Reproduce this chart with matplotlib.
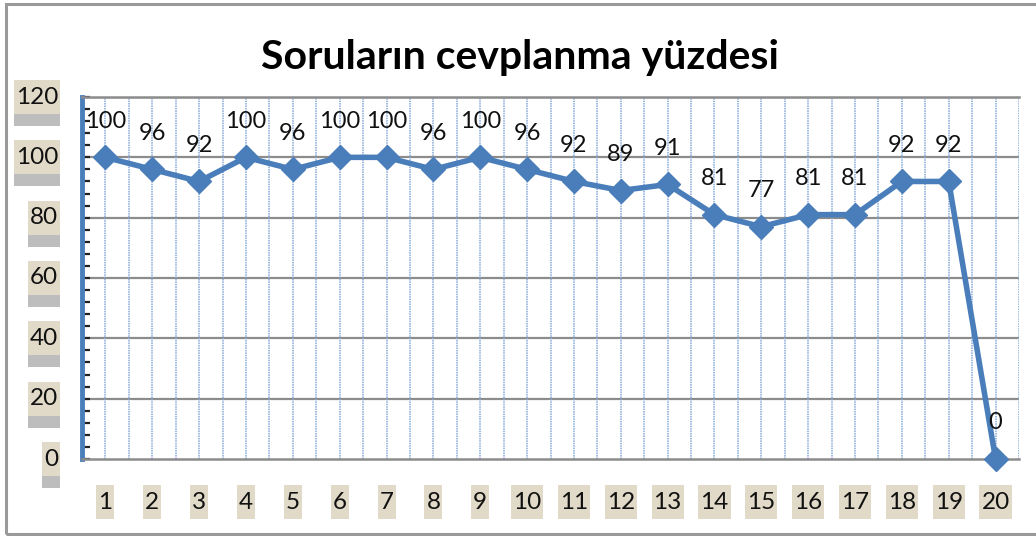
import matplotlib
matplotlib.use("Agg")
import matplotlib.pyplot as plt
from matplotlib.patches import Rectangle

questions = list(range(1, 21))
percent = [100, 96, 92, 100, 96, 100, 100, 96, 100, 96,
           92, 89, 91, 81, 77, 81, 81, 92, 92, 0]
y_ticks = [0, 20, 40, 60, 80, 100, 120]
title = "Soruların cevplanma yüzdesi"

plt.rcParams["font.family"] = ["Lato", "DejaVu Sans"]

BLUE = "#4a7ebb"
BEIGE = "#e2dac8"
GRAY = "#bdbdbd"
W, H = 1036, 536

fig = plt.figure(figsize=(W / 100, H / 100), dpi=100)
fig.patches.append(Rectangle((6 / W, 2 / H), 1.1, 530 / H, transform=fig.transFigure,
                             fill=False, edgecolor="#9a9a9a", linewidth=2.2))
ax = fig.add_axes([82 / W, 1 - 459 / H, (1019 - 82) / W, (459 - 97) / H])

ax.set_xlim(0.5, 20.5)
ax.set_ylim(0, 120)

# grid
for y in y_ticks[1:]:
    ax.axhline(y, color="#8c8c8c", lw=1.6, zorder=1)
for k in range(1, 41):
    ax.axvline(0.5 + k * 0.5, color="#87a9d8", lw=1.1, ls=(0, (1, 0.6)), zorder=1)

ax.plot(questions, percent, color=BLUE, lw=4, marker="D", markersize=12.5,
        zorder=3, clip_on=False)
for x, v in zip(questions, percent):
    ax.annotate(str(v), (x, v), xytext=(0, 26), textcoords="offset points",
                ha="center", va="center", fontsize=17, color="#111111", zorder=4)

for s in ["top", "bottom"]:
    ax.spines[s].set_color("#8c8c8c")
    ax.spines[s].set_linewidth(1.8)
ax.spines["right"].set_visible(False)
ax.spines["left"].set_color(BLUE)
ax.spines["left"].set_linewidth(3.5)

ax.set_yticks(y_ticks)
ax.set_yticks(range(0, 121, 4), minor=True)
ax.tick_params(axis="y", which="both", direction="in", color="#222222",
               length=6, width=1.6, labelleft=False)
ax.set_xticks([])

# y tick labels
ylabels = []
for y in y_ticks:
    t = ax.annotate(str(y), (0, y), xycoords=ax.get_yaxis_transform(),
                    xytext=(-24, 0), textcoords="offset pixels", ha="right", va="center",
                    fontsize=17.5, color="#111111", zorder=6, annotation_clip=False)
    ylabels.append(t)

# x tick labels
xlabels = []
for x in questions:
    t = ax.text(x, -0.119, str(x), transform=ax.get_xaxis_transform(), ha="center",
                va="center", fontsize=17.5, color="#111111", zorder=6)
    xlabels.append(t)

fig.text(0.502, 1 - 57 / H, title, ha="center", va="center", fontsize=29.5,
         fontweight="bold", color="#000000")

# beige label boxes (and gray strip under the y labels), drawn under the label text
fig.canvas.draw()
r = fig.canvas.get_renderer()
for t in ylabels + xlabels:
    bb = t.get_window_extent(r)
    cy = (bb.y0 + bb.y1) / 2
    x0, w = bb.x0 - 2, bb.width + 4
    ax.add_patch(Rectangle((x0 / W, (cy - 17) / H), w / W, 34 / H,
                           transform=fig.transFigure, fc=BEIGE, ec="none",
                           clip_on=False, zorder=5))
    if t in ylabels:
        ax.add_patch(Rectangle((x0 / W, (cy - 29) / H), w / W, 12 / H,
                               transform=fig.transFigure, fc=GRAY, ec="none",
                               clip_on=False, zorder=5))

fig.savefig("out.png", dpi=100)
